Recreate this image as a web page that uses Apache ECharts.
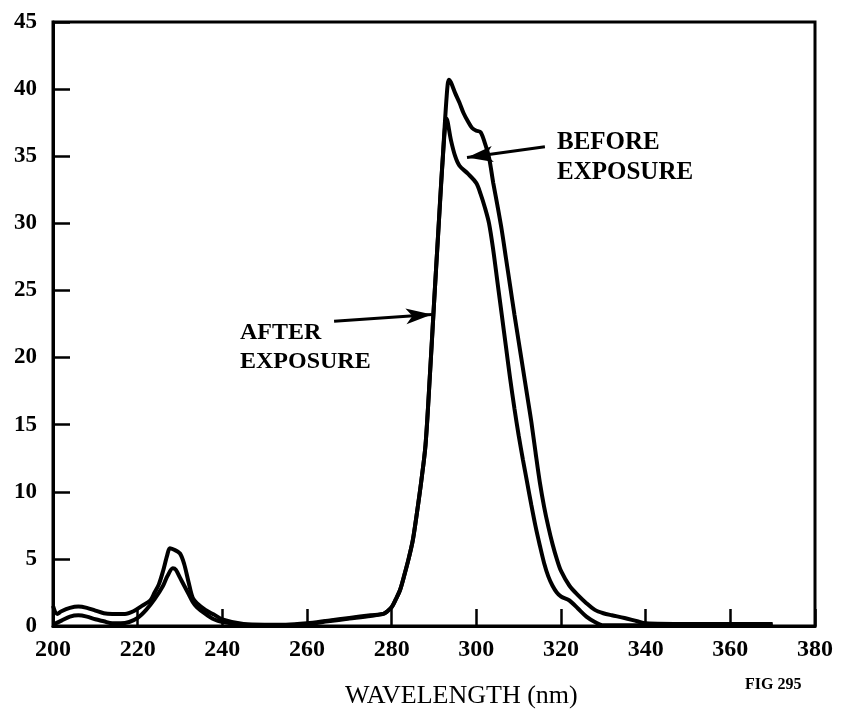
<!DOCTYPE html>
<html>
<head>
<meta charset="utf-8">
<script src="https://cdn.jsdelivr.net/npm/echarts@6/dist/echarts.min.js"></script>
<style>html,body{margin:0;padding:0;background:#fff}#c{width:841px;height:719px}</style>
</head>
<body>
<div id="c"></div>
<script>
// Wavelength (nm) and absorbance values
var beforeX = [200,201,202,204,206,208,210,212,214,217,219,221,223,224,225,226,227,227.6,228.5,230,231,232,233,234,236,238,240,245,250,255,260,265,270,275,278,279,280,281,282,283,284,285,286,287,288,289,290,291,292,293,293.5,294,295,296,297,298,299,300,301,302,303,304,305,306,307,308,309,310,311,312,313,314,315,316,317,318,319,320,322,324,326,328,330,332,335,338,340,350,360,370];
var beforeY = [1.5,0.9,1.1,1.35,1.45,1.35,1.15,0.95,0.9,0.9,1.1,1.5,1.9,2.5,3.1,4.1,5.3,5.8,5.7,5.4,4.6,3.3,2.1,1.7,1.2,0.85,0.5,0.15,0.1,0.1,0.2,0.4,0.6,0.8,0.9,1.1,1.4,2.0,2.7,3.8,5.0,6.4,8.5,10.8,13.5,18.5,24,29.3,34.5,39.5,40.7,40.5,39.7,39.0,38.2,37.6,37.1,36.9,36.8,36.0,34.9,33.0,31.3,29.5,27.4,25.3,23.2,21.2,19.2,17.2,15.2,12.9,10.7,8.9,7.4,6.1,5.0,4.1,3.0,2.3,1.7,1.2,0.95,0.8,0.6,0.35,0.2,0.15,0.15,0.15];
var afterX = [200,202,204,206,208,210,212,214,216,218,220,222,224,226,227,228.3,229,230,231,232,233,234,236,238,240,245,250,255,260,265,270,275,278,279,280,281,282,283,284,285,286,287,288,289,290,291,292,293,294,295,296,298,300,301,302,303,304,305,306,307,308,309,310,311,312,313,314,315,316,317,318,319,320,322,324,326,328,330,340,370];
var afterY = [0.1,0.4,0.7,0.8,0.7,0.5,0.35,0.2,0.2,0.3,0.6,1.2,2.0,3.0,3.7,4.3,4.2,3.6,3.0,2.4,1.8,1.4,0.9,0.5,0.3,0.1,0.05,0.05,0.15,0.35,0.55,0.75,0.9,1.1,1.4,2.0,2.7,3.8,5.0,6.4,8.5,10.8,13.5,18.5,24,29.3,34.5,37.8,36.2,35.0,34.3,33.7,33.0,32.2,31.2,30.0,28.0,25.6,23.2,20.8,18.4,16.2,14.2,12.4,10.7,9.0,7.4,6.0,4.7,3.7,3.0,2.5,2.2,1.9,1.3,0.7,0.3,0.05,0.05,0.05];
var xTicks = [200,220,240,260,280,300,320,340,360,380];
var yTicks = [0,5,10,15,20,25,30,35,40,45];
var beforeArrow = [[316.2,35.7],[297.8,34.9]];
var afterArrow = [[266.4,22.7],[289.5,23.2]];

function pairs(xs, ys){ return xs.map(function(x,i){ return [x, ys[i]]; }); }

var FONT = '"Liberation Serif", "DejaVu Serif", serif';
var chart = echarts.init(document.getElementById('c'), null, {renderer:'canvas'});
chart.setOption({
  animation: false,
  backgroundColor: '#fff',
  grid: {left:53, right:26, top:22, bottom:93, show:true, borderColor:'#000', borderWidth:3, backgroundColor:'transparent'},
  xAxis: {
    type:'value', min:xTicks[0], max:xTicks[xTicks.length-1], interval:20,
    axisLine:{show:true, lineStyle:{color:'#000', width:3}},
    axisTick:{show:true, inside:true, length:17, lineStyle:{color:'#000', width:2.5}},
    splitLine:{show:false},
    axisLabel:{color:'#000', fontFamily:FONT, fontWeight:'bold', fontSize:24, margin:12,
      formatter:function(v){ return xTicks.indexOf(v)>=0 ? String(v) : ''; }}
  },
  yAxis: {
    type:'value', min:yTicks[0], max:yTicks[yTicks.length-1], interval:5,
    axisLine:{show:true, lineStyle:{color:'#000', width:3}},
    axisTick:{show:true, inside:true, length:17, lineStyle:{color:'#000', width:2.5}},
    splitLine:{show:false},
    axisLabel:{color:'#000', fontFamily:FONT, fontWeight:'bold', fontSize:23, margin:16,
      formatter:function(v){ return yTicks.indexOf(v)>=0 ? String(v) : ''; }}
  },
  series: [
    {
      name:'BEFORE EXPOSURE', type:'line', data:pairs(beforeX, beforeY),
      showSymbol:false, smooth:0.3, lineStyle:{color:'#000', width:4}, z:3,
      markLine:{silent:true, symbol:['none','arrow'], symbolSize:[12,26],
        label:{show:false}, lineStyle:{color:'#000', width:3, type:'solid'},
        data:[[{coord:beforeArrow[0]},{coord:beforeArrow[1]}]]}
    },
    {
      name:'AFTER EXPOSURE', type:'line', data:pairs(afterX, afterY),
      showSymbol:false, smooth:0.3, lineStyle:{color:'#000', width:4}, z:3,
      markLine:{silent:true, symbol:['none','arrow'], symbolSize:[12,26],
        label:{show:false}, lineStyle:{color:'#000', width:3, type:'solid'},
        data:[[{coord:afterArrow[0]},{coord:afterArrow[1]}]]}
    }
  ],
  graphic: [
    {type:'text', left:557, top:128, style:{text:'BEFORE\nEXPOSURE', fill:'#000', font:'bold 25px '+FONT, lineHeight:30}},
    {type:'text', left:240, top:318, style:{text:'AFTER\nEXPOSURE', fill:'#000', font:'bold 24px '+FONT, lineHeight:29}},
    {type:'text', left:345, top:683, style:{text:'WAVELENGTH (nm)', fill:'#000', font:'26px '+FONT}},
    {type:'text', left:745, top:677, style:{text:'FIG 295', fill:'#000', font:'bold 16px '+FONT}}
  ]
});
</script>
</body>
</html>
